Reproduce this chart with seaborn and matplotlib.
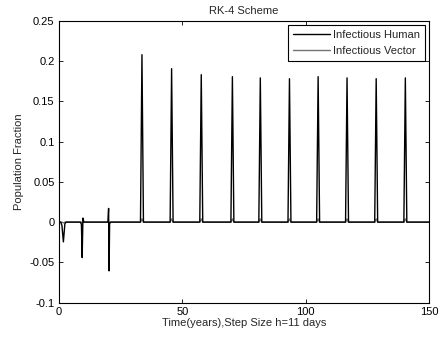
import numpy as np
import pandas as pd
import seaborn as sns
import matplotlib
matplotlib.use("Agg")
import matplotlib.pyplot as plt

# Time points (years) and solution values from the RK-4 run
time_years = [0.0, 0.8, 1.3, 1.9, 2.5, 3.0,
              8.8, 9.2, 9.5, 9.8, 10.2, 10.8,
              19.9, 20.2, 20.4, 20.6, 21.0,
              33.1, 33.7, 34.3,
              45.1, 45.7, 46.3,
              57.1, 57.7, 58.3,
              69.7, 70.3, 70.9,
              81.0, 81.6, 82.2,
              92.8, 93.4, 94.0,
              104.4, 105.0, 105.6,
              116.1, 116.7, 117.3,
              127.9, 128.5, 129.1,
              139.7, 140.3, 140.9,
              150.0]

infectious_human = [0.0, 0.0, -0.004, -0.0245, -0.002, 0.0,
                    0.0, -0.003, -0.044, 0.005, 0.0, 0.0,
                    0.0, 0.017, -0.0605, -0.002, 0.0,
                    0.0, 0.2078, 0.0,
                    0.0, 0.1904, 0.0,
                    0.0, 0.183, 0.0,
                    0.0, 0.1805, 0.0,
                    0.0, 0.179, 0.0,
                    0.0, 0.178, 0.0,
                    0.0, 0.1805, 0.0,
                    0.0, 0.179, 0.0,
                    0.0, 0.178, 0.0,
                    0.0, 0.179, 0.0,
                    0.0]

infectious_vector = [0.0, 0.0, 0.0, -0.001, 0.0, 0.0,
                     0.0, 0.0, -0.002, 0.0, 0.0, 0.0,
                     0.0, 0.0, -0.003, 0.0, 0.0,
                     0.0, 0.004, 0.0,
                     0.0, 0.004, 0.0,
                     0.0, 0.004, 0.0,
                     0.0, 0.004, 0.0,
                     0.0, 0.004, 0.0,
                     0.0, 0.004, 0.0,
                     0.0, 0.004, 0.0,
                     0.0, 0.004, 0.0,
                     0.0, 0.004, 0.0,
                     0.0, 0.004, 0.0,
                     0.0]

x_ticks = [0, 50, 100, 150]
y_ticks = [-0.1, -0.05, 0, 0.05, 0.1, 0.15, 0.2, 0.25]
y_tick_labels = ["-0.1", "-0.05", "0", "0.05", "0.1", "0.15", "0.2", "0.25"]

sns.set_style("ticks")
plt.rcParams["font.family"] = ["Liberation Sans", "DejaVu Sans"]
plt.rcParams["font.size"] = 8

df = pd.DataFrame({
    "t": time_years,
    "human": infectious_human,
    "vector": infectious_vector,
})

fig = plt.figure(figsize=(4.4, 3.39), dpi=100)
ax = fig.add_axes([0.1334, 0.1071, 0.8423, 0.8319])

sns.lineplot(data=df, x="t", y="vector", ax=ax, color="#737373",
             linewidth=1.0, label="Infectious Vector", estimator=None, sort=False)
sns.lineplot(data=df, x="t", y="human", ax=ax, color="black",
             linewidth=1.0, label="Infectious Human", estimator=None, sort=False)

ax.set_xlim(0, 150)
ax.set_ylim(-0.1, 0.25)
ax.set_xticks(x_ticks)
ax.set_xticklabels([str(v) for v in x_ticks])
ax.set_yticks(y_ticks)
ax.set_yticklabels(y_tick_labels)

ax.tick_params(direction="in", length=3, width=0.6, top=True, right=True,
               labelsize=8, colors="black", pad=3)
for side in ["left", "right", "top", "bottom"]:
    ax.spines[side].set_visible(True)
    ax.spines[side].set_linewidth(0.8)
    ax.spines[side].set_color("black")

ax.set_title("RK-4 Scheme", fontsize=8, pad=5)
ax.set_xlabel("Time(years),Step Size h=11 days", fontsize=8, labelpad=1)
ax.set_ylabel("Population Fraction", fontsize=8, labelpad=4)

handles, labels = ax.get_legend_handles_labels()
order = [labels.index("Infectious Human"), labels.index("Infectious Vector")]
leg = ax.legend([handles[i] for i in order], [labels[i] for i in order],
                loc="upper right", fontsize=8, frameon=True, fancybox=False,
                framealpha=1, edgecolor="black", handlelength=3.3,
                borderaxespad=0.4, borderpad=0.45, labelspacing=0.55,
                handletextpad=0.3)
leg.get_frame().set_linewidth(0.8)

fig.savefig("out.png", dpi=100, facecolor="white")
